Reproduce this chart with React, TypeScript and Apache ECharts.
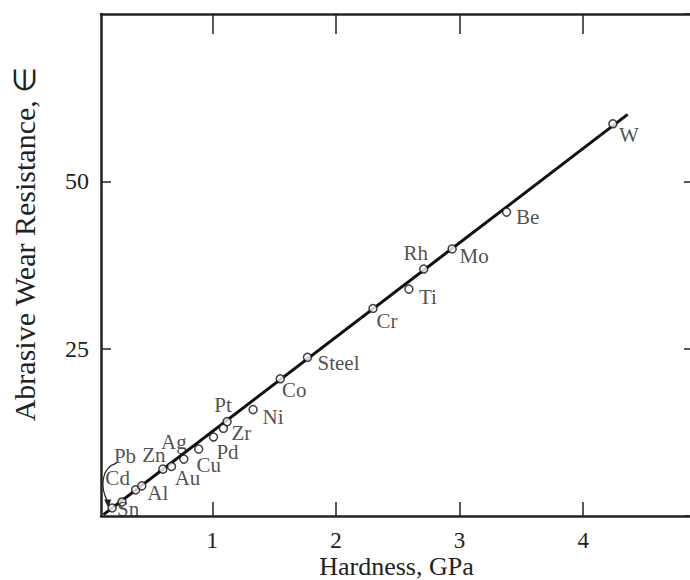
import React, { useEffect, useRef } from "react";
import * as echarts from "echarts";

const elements = ["Sn", "Pb", "Cd", "Al", "Zn", "Au", "Ag", "Cu", "Pd", "Zr", "Pt", "Ni", "Co", "Steel", "Cr", "Ti", "Rh", "Mo", "Be", "W"];
const hardness = [0.19, 0.27, 0.38, 0.43, 0.6, 0.67, 0.77, 0.89, 1.01, 1.09, 1.12, 1.33, 1.55, 1.77, 2.3, 2.59, 2.71, 2.94, 3.38, 4.24];
const resistance = [1.2, 2.1, 3.9, 4.5, 7.0, 7.4, 8.5, 10.0, 11.8, 13.1, 14.1, 15.9, 20.5, 23.7, 31.0, 33.9, 36.9, 39.9, 45.4, 58.6];
const fitLine = [[0.12, 0.2], [4.36, 60]];
const xTicks = [1, 2, 3, 4];

// label placement (styling): offsets of label centre from the marker centre, px
const labelOffsets: Record<string, number[]> = {
  Sn: [16, 1], Pb: [3, -46], Cd: [-18, -12], Al: [16, 7], Zn: [-9, -14], Au: [16, 12],
  Ag: [-10, -17], Cu: [10, 16], Pd: [14, 15], Zr: [18, 5], Pt: [-4, -17], Ni: [20, 7],
  Co: [14, 11], Steel: [31, 6], Cr: [14, 12], Ti: [19, 8], Rh: [-8, -16], Mo: [22, 7],
  Be: [21, 5], W: [16, 11],
};

const FONT = "Liberation Serif";
const INK = "#222";

export default function App() {
  const ref = useRef<HTMLDivElement>(null);
  useEffect(() => {
    if (!ref.current) return;
    const chart = echarts.init(ref.current, undefined, { renderer: "svg" });
    const scatterData = elements.map((n, i) => ({
      name: n,
      value: [hardness[i], resistance[i]],
      label: { offset: labelOffsets[n] },
    }));
    const axisLine = { show: true, onZero: false, lineStyle: { color: INK, width: 2.5 } };
    chart.setOption({
      animation: false,
      backgroundColor: "#fff",
      grid: { left: 101, right: -2, top: 14, bottom: 64, containLabel: false, outerBoundsMode: "none" },
      xAxis: [
        {
          type: "value", position: "bottom", min: 0.1, max: 4.88,
          axisLine,
          axisTick: { show: true, inside: true, length: 14, customValues: xTicks, lineStyle: { color: INK, width: 1.5 } },
          axisLabel: { customValues: xTicks, margin: 13, fontFamily: FONT, fontSize: 23, color: INK },
          splitLine: { show: false },
          name: "Hardness, GPa", nameLocation: "middle", nameGap: 37, nameMoveOverlap: false,
          nameTextStyle: { fontFamily: FONT, fontSize: 26, color: INK },
        },
        {
          type: "value", position: "top", min: 0.1, max: 4.88,
          axisLine,
          axisTick: { show: true, inside: true, length: 20, customValues: xTicks, lineStyle: { color: INK, width: 1.5 } },
          axisLabel: { show: false },
          splitLine: { show: false },
        },
      ],
      yAxis: [
        {
          type: "value", position: "left", min: 0, max: 75, interval: 25,
          axisLine,
          axisTick: { show: true, inside: true, length: 10, lineStyle: { color: INK, width: 1.5 } },
          axisLabel: { showMinLabel: false, showMaxLabel: false, margin: 12, fontFamily: FONT, fontSize: 24, color: INK },
          splitLine: { show: false },
        },
        {
          type: "value", position: "right", min: 0, max: 75, interval: 25,
          axisLine,
          axisTick: { show: true, inside: true, length: 8, lineStyle: { color: INK, width: 1.5 } },
          axisLabel: { show: false },
          splitLine: { show: false },
        },
      ],
      series: [
        {
          type: "line", data: fitLine, showSymbol: false, symbol: "none",
          lineStyle: { color: "#111", width: 3 }, z: 2, silent: true,
        },
        {
          type: "scatter", data: scatterData, symbol: "circle", symbolSize: 8, z: 5,
          itemStyle: { color: "#fff", borderColor: "#111", borderWidth: 1.5 },
          label: {
            show: true, position: "inside", formatter: "{b}",
            fontFamily: FONT, fontSize: 21, color: INK, align: "center", verticalAlign: "middle",
          },
        },
      ],
    });
    const p = (d: number[]) => chart.convertToPixel({ xAxisIndex: 0, yAxisIndex: 0 }, d) as number[];
    const s = p([0.226, 7.9]);
    const c1 = p([0.09, 7.2]);
    const c2 = p([0.1, 4.0]);
    const e = p([0.15, 2.3]);
    chart.setOption({
      graphic: [
        {
          type: "text", x: 24, y: 244, rotation: Math.PI / 2,
          style: {
            text: "Abrasive Wear Resistance, \u2208", fontFamily: FONT, fontSize: 30, fill: INK,
            align: "center", verticalAlign: "middle",
          },
        },
        {
          type: "bezierCurve",
          shape: { x1: s[0], y1: s[1], cpx1: c1[0], cpy1: c1[1], cpx2: c2[0], cpy2: c2[1], x2: e[0], y2: e[1] },
          style: { stroke: INK, lineWidth: 1.2, fill: "none" },
          z: 10,
        },
        {
          type: "polygon",
          shape: { points: [[e[0] + 1, e[1] + 7], [e[0] - 3, e[1] - 1], [e[0] + 4, e[1] - 1]] },
          style: { fill: INK },
          z: 10,
        },
      ],
    });
    return () => chart.dispose();
  }, []);
  return <div ref={ref} style={{ position: "absolute", left: 0, top: 0, width: 690, height: 580 }} />;
}
